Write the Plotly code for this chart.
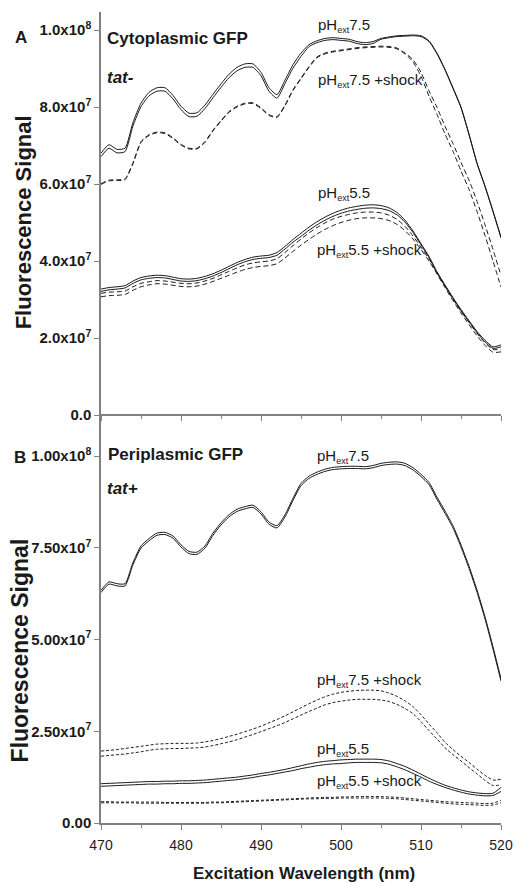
import plotly.graph_objects as go

# ---------------- data (fluorescence values in units of 1e7) ----------------
SCALE = 1e7
wavelength = list(range(470, 521))

# Panel A: cytoplasmic GFP, tat-
a_ph75_r1 = [6.80, 7.02, 6.90, 6.93, 7.60, 8.10, 8.38, 8.50, 8.50, 8.30,
             8.02, 7.84, 7.85, 8.05, 8.33, 8.60, 8.85, 9.03, 9.12, 9.12,
             8.90, 8.50, 8.32, 8.70, 9.10, 9.40, 9.62, 9.72, 9.78, 9.80,
             9.78, 9.76, 9.70, 9.67, 9.70, 9.78, 9.82, 9.85, 9.86, 9.87,
             9.85, 9.72, 9.40, 8.98, 8.50, 8.00, 7.30, 6.55, 5.95, 5.30, 4.62]
a_ph75_r2 = [6.71, 6.93, 6.81, 6.84, 7.51, 8.01, 8.29, 8.41, 8.41, 8.21,
             7.93, 7.75, 7.76, 7.96, 8.24, 8.51, 8.76, 8.94, 9.03, 9.03,
             8.81, 8.41, 8.23, 8.61, 9.01, 9.31, 9.57, 9.67, 9.73, 9.75,
             9.73, 9.71, 9.65, 9.62, 9.65, 9.76, 9.80, 9.83, 9.84, 9.85,
             9.83, 9.70, 9.38, 8.96, 8.48, 7.98, 7.28, 6.53, 5.93, 5.28, 4.60]
a_ph75s_r1 = [6.01, 6.10, 6.11, 6.13, 6.55, 7.10, 7.28, 7.35, 7.33, 7.20,
              7.03, 6.93, 6.93, 7.10, 7.40, 7.65, 7.88, 8.02, 8.10, 8.11,
              7.98, 7.80, 7.75, 8.05, 8.45, 8.75, 9.05, 9.30, 9.40, 9.45,
              9.48, 9.51, 9.54, 9.56, 9.57, 9.58, 9.57, 9.53, 9.40, 9.23,
              8.90, 8.42, 7.99, 7.50, 7.05, 6.56, 6.10, 5.55, 4.94, 4.30, 3.62]
a_ph75s_r2 = [5.99, 6.08, 6.09, 6.11, 6.53, 7.08, 7.26, 7.33, 7.31, 7.18,
              7.01, 6.91, 6.91, 7.08, 7.38, 7.63, 7.86, 8.00, 8.08, 8.09,
              7.96, 7.78, 7.73, 8.03, 8.43, 8.73, 9.03, 9.28, 9.38, 9.43,
              9.46, 9.49, 9.52, 9.54, 9.55, 9.56, 9.55, 9.51, 9.38, 9.17,
              8.80, 8.28, 7.81, 7.30, 6.85, 6.34, 5.86, 5.29, 4.66, 4.00, 3.32]
a_ph55_r1 = [3.27, 3.31, 3.33, 3.36, 3.48, 3.57, 3.61, 3.63, 3.62, 3.58,
             3.54, 3.53, 3.55, 3.60, 3.67, 3.76, 3.86, 3.96, 4.04, 4.10,
             4.13, 4.15, 4.22, 4.38, 4.56, 4.72, 4.88, 5.02, 5.14, 5.24,
             5.32, 5.38, 5.42, 5.45, 5.46, 5.44, 5.38, 5.26, 5.06, 4.78,
             4.45, 4.12, 3.72, 3.38, 3.05, 2.74, 2.45, 2.17, 1.94, 1.77, 1.82]
a_ph55_r2 = [3.21, 3.25, 3.27, 3.30, 3.42, 3.51, 3.55, 3.57, 3.56, 3.52,
             3.48, 3.47, 3.49, 3.54, 3.61, 3.70, 3.80, 3.90, 3.98, 4.04,
             4.07, 4.09, 4.15, 4.31, 4.49, 4.64, 4.80, 4.94, 5.06, 5.16,
             5.24, 5.30, 5.34, 5.37, 5.38, 5.36, 5.31, 5.20, 5.01, 4.74,
             4.42, 4.09, 3.69, 3.35, 3.02, 2.71, 2.42, 2.14, 1.90, 1.73, 1.77]
a_ph55s_r1 = [3.16, 3.19, 3.20, 3.22, 3.33, 3.42, 3.46, 3.49, 3.48, 3.45,
              3.42, 3.41, 3.43, 3.48, 3.55, 3.64, 3.73, 3.82, 3.90, 3.95,
              3.98, 4.00, 4.06, 4.22, 4.40, 4.57, 4.73, 4.87, 4.99, 5.09,
              5.16, 5.21, 5.25, 5.27, 5.27, 5.25, 5.19, 5.08, 4.90, 4.65,
              4.36, 4.05, 3.70, 3.35, 3.01, 2.70, 2.41, 2.12, 1.88, 1.70, 1.71]
a_ph55s_r2 = [3.07, 3.10, 3.11, 3.13, 3.24, 3.33, 3.38, 3.41, 3.40, 3.37,
              3.34, 3.33, 3.35, 3.40, 3.47, 3.55, 3.63, 3.71, 3.78, 3.83,
              3.86, 3.88, 3.93, 4.08, 4.25, 4.41, 4.56, 4.70, 4.82, 4.92,
              5.00, 5.06, 5.10, 5.12, 5.12, 5.10, 5.05, 4.95, 4.79, 4.57,
              4.30, 4.00, 3.66, 3.31, 2.97, 2.65, 2.35, 2.06, 1.81, 1.63, 1.64]

# Panel B: periplasmic GFP, tat+
b_ph75_r1 = [6.34, 6.57, 6.52, 6.52, 7.10, 7.55, 7.75, 7.90, 7.92, 7.82,
             7.58, 7.40, 7.38, 7.55, 7.90, 8.18, 8.40, 8.55, 8.62, 8.66,
             8.48, 8.20, 8.10, 8.40, 8.85, 9.25, 9.45, 9.56, 9.64, 9.69,
             9.71, 9.72, 9.72, 9.71, 9.74, 9.80, 9.83, 9.84, 9.80, 9.68,
             9.50, 9.28, 8.88, 8.50, 8.10, 7.58, 7.00, 6.35, 5.62, 4.80, 3.93]
b_ph75_r2 = [6.28, 6.51, 6.46, 6.46, 7.04, 7.49, 7.69, 7.84, 7.86, 7.76,
             7.52, 7.34, 7.32, 7.49, 7.84, 8.12, 8.34, 8.49, 8.56, 8.60,
             8.42, 8.14, 8.04, 8.34, 8.79, 9.19, 9.39, 9.50, 9.58, 9.63,
             9.65, 9.66, 9.66, 9.65, 9.68, 9.74, 9.77, 9.78, 9.74, 9.62,
             9.44, 9.22, 8.82, 8.44, 8.04, 7.52, 6.94, 6.29, 5.56, 4.74, 3.87]
b_ph75s_r1 = [1.96, 1.98, 2.00, 2.03, 2.06, 2.09, 2.12, 2.15, 2.16, 2.17,
              2.17, 2.17, 2.18, 2.21, 2.25, 2.30, 2.36, 2.42, 2.49, 2.56,
              2.64, 2.73, 2.82, 2.92, 3.03, 3.14, 3.25, 3.35, 3.44, 3.51,
              3.56, 3.59, 3.61, 3.62, 3.62, 3.60, 3.54, 3.45, 3.33, 3.17,
              2.95, 2.70, 2.46, 2.20, 2.00, 1.82, 1.65, 1.47, 1.30, 1.17, 1.19]
b_ph75s_r2 = [1.82, 1.84, 1.86, 1.88, 1.91, 1.94, 1.98, 2.01, 2.02, 2.03,
              2.03, 2.04, 2.05, 2.07, 2.11, 2.16, 2.21, 2.27, 2.34, 2.41,
              2.49, 2.57, 2.65, 2.74, 2.84, 2.94, 3.04, 3.13, 3.22, 3.28,
              3.32, 3.35, 3.37, 3.37, 3.37, 3.35, 3.31, 3.23, 3.12, 2.98,
              2.76, 2.52, 2.29, 2.05, 1.86, 1.69, 1.51, 1.34, 1.16, 1.02, 1.04]
b_ph55_r1 = [1.07, 1.08, 1.09, 1.10, 1.11, 1.12, 1.13, 1.13, 1.14, 1.14,
             1.15, 1.15, 1.16, 1.17, 1.19, 1.21, 1.23, 1.25, 1.28, 1.31,
             1.35, 1.38, 1.42, 1.46, 1.51, 1.56, 1.61, 1.65, 1.68, 1.70,
             1.72, 1.73, 1.74, 1.74, 1.74, 1.73, 1.69, 1.62, 1.54, 1.44,
             1.33, 1.22, 1.12, 1.03, 0.96, 0.90, 0.85, 0.82, 0.80, 0.81, 0.97]
b_ph55_r2 = [1.00, 1.01, 1.02, 1.03, 1.04, 1.05, 1.06, 1.06, 1.07, 1.07,
             1.08, 1.08, 1.09, 1.10, 1.12, 1.14, 1.16, 1.18, 1.21, 1.24,
             1.28, 1.31, 1.35, 1.39, 1.43, 1.48, 1.52, 1.56, 1.59, 1.61,
             1.62, 1.64, 1.65, 1.65, 1.65, 1.64, 1.60, 1.53, 1.45, 1.35,
             1.25, 1.14, 1.05, 0.97, 0.90, 0.84, 0.79, 0.76, 0.74, 0.75, 0.86]
b_ph55s_r1 = [0.58, 0.58, 0.57, 0.57, 0.57, 0.57, 0.57, 0.57, 0.56, 0.56,
              0.56, 0.56, 0.56, 0.56, 0.57, 0.57, 0.58, 0.59, 0.60, 0.61,
              0.62, 0.63, 0.64, 0.65, 0.66, 0.67, 0.68, 0.69, 0.70, 0.70,
              0.71, 0.71, 0.72, 0.72, 0.72, 0.72, 0.71, 0.70, 0.68, 0.66,
              0.64, 0.62, 0.60, 0.58, 0.57, 0.56, 0.55, 0.54, 0.53, 0.54, 0.62]
b_ph55s_r2 = [0.55, 0.55, 0.55, 0.55, 0.55, 0.54, 0.54, 0.54, 0.54, 0.54,
              0.54, 0.54, 0.54, 0.54, 0.55, 0.55, 0.56, 0.57, 0.58, 0.59,
              0.60, 0.61, 0.62, 0.63, 0.64, 0.65, 0.66, 0.66, 0.67, 0.67,
              0.68, 0.68, 0.68, 0.68, 0.68, 0.68, 0.67, 0.66, 0.64, 0.62,
              0.60, 0.58, 0.56, 0.54, 0.52, 0.51, 0.50, 0.49, 0.48, 0.49, 0.55]

a_tickvals = [0, 2e7, 4e7, 6e7, 8e7, 1e8]
a_ticktext = ["0.0", "2.0x10<sup>7</sup>", "4.0x10<sup>7</sup>", "6.0x10<sup>7</sup>",
              "8.0x10<sup>7</sup>", "1.0x10<sup>8</sup>"]
b_tickvals = [0, 2.5e7, 5e7, 7.5e7, 1e8]
b_ticktext = ["0.00", "2.50x10<sup>7</sup>", "5.00x10<sup>7</sup>", "7.50x10<sup>7</sup>",
              "1.00x10<sup>8</sup>"]

# ---------------- layout helpers ----------------
W, H = 525, 884
ML, MR, MT, MB = 101, 12, 12, 61
PW, PH = W - ML - MR, H - MT - MB
FONT = "Liberation Sans, Arial, sans-serif"
INK = "#1a1a1a"
AXC = "#808080"


def px(X):
    return (X - ML) / PW


def py(Y):
    return (H - MB - Y) / PH


split = py(432)

fig = go.Figure()


def add(vals, axis, dash):
    xa, ya = ("x2", "y2") if axis == "top" else ("x", "y")
    fig.add_trace(go.Scatter(
        x=wavelength, y=[v * SCALE for v in vals], mode="lines",
        line=dict(color=INK, width=1, dash=dash, shape="spline", smoothing=0.6),
        xaxis=xa, yaxis=ya, showlegend=False, hoverinfo="x+y"))


for s in (a_ph75_r1, a_ph75_r2, a_ph55_r1, a_ph55_r2):
    add(s, "top", "solid")
for s in (a_ph75s_r1, a_ph75s_r2, a_ph55s_r1, a_ph55s_r2):
    add(s, "top", "5px,3px")
for s in (b_ph75_r1, b_ph75_r2, b_ph55_r1, b_ph55_r2):
    add(s, "bottom", "solid")
for s in (b_ph75s_r1, b_ph75s_r2, b_ph55s_r1, b_ph55s_r2):
    add(s, "bottom", "3px,2px")

axis_common = dict(showline=True, linecolor=AXC, linewidth=1.5, ticks="outside",
                   tickcolor=AXC, tickwidth=1.2, showgrid=False, zeroline=False)

xcommon = dict(range=[470, 520], tick0=470, dtick=10, ticklen=5,
               minor=dict(dtick=5, ticks="outside", ticklen=3, tickcolor=AXC),
               **axis_common)

fig.update_layout(
    width=W, height=H,
    margin=dict(l=ML, r=MR, t=MT, b=MB),
    paper_bgcolor="white", plot_bgcolor="white",
    font=dict(family=FONT, color=INK),
    xaxis=dict(domain=[0, 1], anchor="y", showticklabels=True,
               tickfont=dict(family=FONT, size=14, color=INK),
               ticklabelstandoff=3, **xcommon),
    xaxis2=dict(domain=[0, 1], anchor="free", position=py(415), matches="x",
                showticklabels=False, **xcommon),
    yaxis=dict(domain=[0, split], anchor="x", range=[0, 1.0654e8],
               tickvals=b_tickvals, ticktext=b_ticktext, ticklen=5,
               tickfont=dict(family=FONT, size=15, color=INK, weight="bold"),
               **axis_common),
    yaxis2=dict(domain=[split, 1], anchor="x2", range=[-4.416e6, 1.04675e8],
                tickvals=a_tickvals, ticktext=a_ticktext, ticklen=5,
                tickfont=dict(family=FONT, size=15, color=INK, weight="bold"),
                **axis_common),
)


def note(text, X, Y, size, weight="normal", style="normal", xanchor="left", angle=0):
    fig.add_annotation(text=text, x=px(X), y=py(Y), xref="paper", yref="paper",
                       xanchor=xanchor, yanchor="middle", showarrow=False,
                       textangle=angle,
                       font=dict(family=FONT, size=size, color=INK,
                                 weight=weight, style=style))


# panel letters and titles
note("A", 19, 37, 17, weight="bold", xanchor="center")
note("B", 18, 458, 17, weight="bold", xanchor="center")
note("Cytoplasmic GFP", 105, 39, 17, weight="bold")
note("tat-", 105, 78, 17, weight="bold", style="italic")
note("Periplasmic GFP", 106, 455, 17, weight="bold")
note("tat+", 105, 489, 17, weight="bold", style="italic")

# axis titles
note("Fluorescence Signal", 21, 222, 22, weight="bold", xanchor="center", angle=-90)
note("Fluorescence Signal", 18, 650, 23, weight="bold", xanchor="center", angle=-90)
note("Excitation Wavelength (nm)", 310, 873, 17, weight="bold", xanchor="center")

# curve labels
LBL = 15
SUB = "<sub><span style='font-size:9px'>ext</span></sub>"
note("pH" + SUB + "7.5", 322, 25, LBL)
note("pH" + SUB + "7.5 +shock", 322, 80, LBL)
note("pH" + SUB + "5.5", 322, 193, LBL)
note("pH" + SUB + "5.5 +shock", 321, 250, LBL)
note("pH" + SUB + "7.5", 321, 456, LBL)
note("pH" + SUB + "7.5 +shock", 321, 680, LBL)
note("pH" + SUB + "5.5", 321, 749, LBL)
note("pH" + SUB + "5.5 +shock", 321, 781, LBL)

fig.write_html("out.html")
